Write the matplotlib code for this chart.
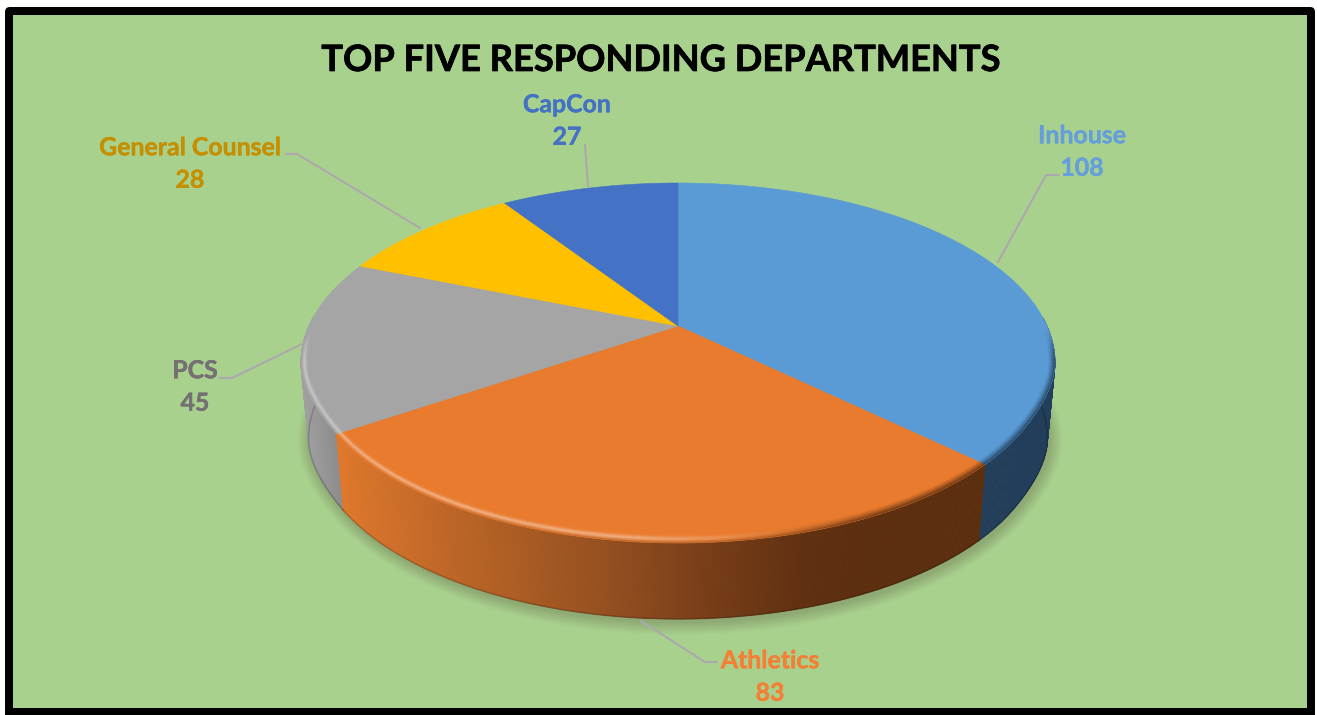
#!/usr/bin/env python3
# -*- coding: utf-8 -*-
import numpy as np
from matplotlib import pyplot as plt
from matplotlib import patheffects as pe
from matplotlib.collections import LineCollection, PolyCollection
from matplotlib.patches import FancyBboxPatch, Polygon, Rectangle

departments = ["Inhouse", "Athletics", "PCS", "General Counsel", "CapCon"]
responses = [108, 83, 45, 28, 27]

top_colors = ["#5B9BD5", "#E97B2E", "#A5A5A5", "#FFC000", "#4472C4"]
label_colors = ["#659FDB", "#F47F35", "#757073", "#C68F00", "#4472C4"]

# pie geometry in pixels (the axes run in pixels)
cx, cy = 678.0, 326.0
rx, ry = 369.0, 172.4
k = 0.2056
depth = 76.0
bottom_scale = 0.98
rim_px = 7.0


def smooth(a, b, x):
    t = np.clip((x - a) / (b - a), 0, 1)
    return t * t * (3 - 2 * t)


def project(theta, r=1.0):
    # theta runs clockwise from 12 o'clock, the tilt pulls the centre upward
    X = r * np.sin(theta)
    Y = r * np.cos(theta)
    w = 1 + k * Y
    pinch = 1 - 0.014 * smooth(0.2, 0.55, -np.cos(theta))
    return cx + rx * pinch * X / w, cy - ry * Y / w


def project_bottom(theta):
    u, v = project(theta)
    return cx + (u - cx) * bottom_scale, v + depth


def mix(c1, c2, a):
    a = np.asarray(a)[..., None]
    return c1 * (1 - a) + c2 * a


def hex_rgb(c):
    return np.array([int(c[i:i + 2], 16) / 255 for i in (1, 3, 5)])


# wall colour for each slice as a function of x
orange_x = [336, 450, 600, 700, 800, 860, 985]
orange_c = ["#E0782C", "#BE6526", "#965020", "#7A3E18", "#613010", "#5C2E0E", "#5C2E0E"]
gray_x = [300, 340]
gray_c = ["#A0A0A0", "#8A8A8A"]


def side_color(i, x):
    if i == 1:
        stops = np.array([hex_rgb(c) for c in orange_c])
        return np.stack([np.interp(x, orange_x, stops[:, j]) for j in range(3)], axis=-1)
    if i == 2:
        stops = np.array([hex_rgb(c) for c in gray_c])
        return np.stack([np.interp(x, gray_x, stops[:, j]) for j in range(3)], axis=-1)
    return np.tile(hex_rgb("#223E5A"), (len(x), 1))


fig = plt.figure(figsize=(13.17, 7.15), dpi=100)
ax = fig.add_axes([0, 0, 1, 1])
ax.set_xlim(0, 1317)
ax.set_ylim(715, 0)
ax.axis("off")

# frame
ax.add_patch(FancyBboxPatch((8, 10), 1304, 720, boxstyle="round,pad=3,rounding_size=5",
                            fc="black", ec="none", zorder=0))
ax.add_patch(Rectangle((13, 15), 1294, 693, fc="#A9D18E", ec="none", zorder=1))

# soft shadow under the pie
tt = np.linspace(0, 2 * np.pi, 360)
bu, bv = project_bottom(tt)
bx0, by0 = (bu.max() + bu.min()) / 2, (bv.max() + bv.min()) / 2
bw, bh = (bu.max() - bu.min()) / 2, (bv.max() - bv.min()) / 2
for e in np.linspace(1, 13, 13):
    su = bx0 + 2 + (bu - bx0) * (1 + e / bw)
    sv = by0 + 3 + (bv - by0) * (1 + e / bh)
    ax.add_patch(Polygon(np.column_stack([su, sv]), fc="black", ec="none", alpha=0.011, zorder=2))

# slice boundaries, in radians
edges = np.cumsum([0] + responses) / sum(responses) * 2 * np.pi

# walls, one thin quad per step so the shading can follow x (front half only)
for i in [0, 2, 1]:
    th = np.linspace(edges[i], edges[i + 1], 400)
    th = th[np.cos(th) < 0.05]
    tu, tv = project(th)
    bu, bv = project_bottom(th)
    quads = [[(tu[j], tv[j]), (tu[j + 1], tv[j + 1]), (bu[j + 1], bv[j + 1]), (bu[j], bv[j])]
             for j in range(len(th) - 1)]
    cols = side_color(i, (tu[:-1] + tu[1:]) / 2)
    ax.add_collection(PolyCollection(quads, facecolors=cols, edgecolors=cols, linewidths=0.5, zorder=3))
    # darker line where the wall meets the table
    ax.plot(bu, bv, color="black", alpha=0.18, lw=1.2, zorder=3.5)

# top faces
for i in range(len(responses)):
    th = np.linspace(edges[i], edges[i + 1], 300)
    tu, tv = project(th)
    pts = np.column_stack([np.r_[cx, tu], np.r_[cy, tv]])
    ax.add_patch(Polygon(pts, fc=top_colors[i], ec=top_colors[i], lw=0.4, zorder=4))

# rounded rim: light on the left of the front edge, dark on the right
for i in range(3):
    th = np.linspace(edges[i], edges[i + 1], 300)
    th = th[np.cos(th) < 0.02]
    thm = (th[:-1] + th[1:]) / 2
    base = hex_rgb(top_colors[i])
    # keep the band about the same width in pixels all the way round
    span = np.hypot(rx * np.sin(th), 217 * np.cos(th))
    for d in np.linspace(0.1, 1.0, 9):
        u, v = project(th, 1 - d * rim_px / span)
        xm = (u[:-1] + u[1:]) / 2
        front = smooth(0.0, 0.2, -np.cos(thm))
        t = (xm - 300) / 756
        w_dark = smooth(0.55, 0.8, t)
        w_light = 1 - smooth(0.4, 0.7, t)
        cols = np.tile(base, (len(xm), 1))
        cols = mix(cols, np.ones(3), 0.4 * w_light * np.exp(-((d - 0.5) / 0.28) ** 2) * front)
        cols = mix(cols, side_color(i, xm), (w_dark * (1 - d) ** 1.3 + 0.7 * (1 - w_dark) * (1 - d) ** 5) * front)
        segs = np.stack([np.column_stack([u[:-1], v[:-1]]), np.column_stack([u[1:], v[1:]])], axis=1)
        ax.add_collection(LineCollection(segs, colors=cols, linewidths=1.1, capstyle="butt", zorder=5))

# leader lines
leaders = [
    [(998, 262), (1046, 175), (1058, 175)],
    [(641, 621), (705, 662), (717, 662)],
    [(302, 344), (232, 378), (220, 378)],
    [(420, 228), (297, 154), (286, 154)],
    [(588, 186), (585, 145)],
]
for pts in leaders:
    xs, ys = zip(*pts)
    ax.plot(xs, ys, color="#ADA8AD", lw=1.5, zorder=6, solid_joinstyle="miter")

# data labels
label_pos = [(1082, 152), (770, 677), (195, 387), (190, 164), (567, 121)]
for name, val, col, (lx, ly) in zip(departments, responses, label_colors, label_pos):
    ax.text(lx, ly, f"{name}\n{val}", color=col, ha="center", va="center", family="Lato",
            fontweight="bold", fontsize=17.9, linespacing=1.5, zorder=7,
            path_effects=[pe.withStroke(linewidth=0.3, foreground=col)])

ax.text(660, 60.5, "TOP FIVE RESPONDING DEPARTMENTS", color="black", ha="center", va="center",
        family="Lato", fontweight="bold", fontsize=26.1, zorder=7,
        path_effects=[pe.withStroke(linewidth=0.5, foreground="black")])

fig.savefig("out.png", dpi=100, facecolor="white")
